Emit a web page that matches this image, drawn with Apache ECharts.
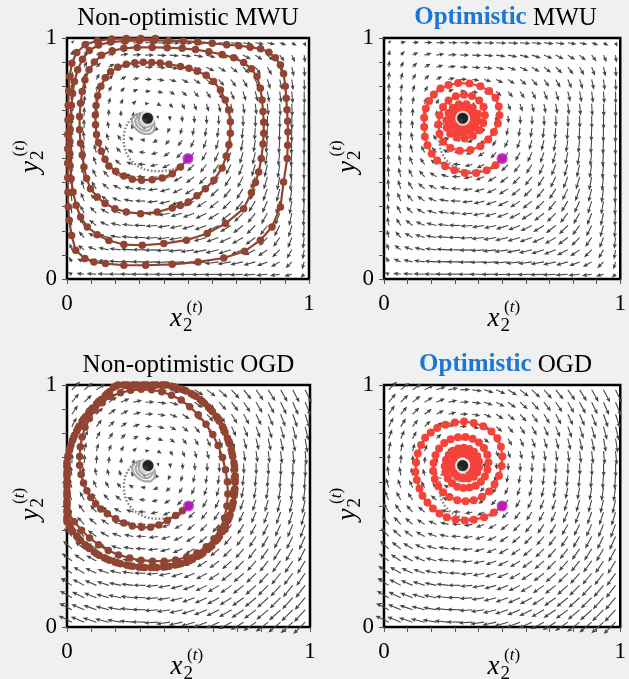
<!DOCTYPE html>
<html><head><meta charset="utf-8">
<script src="https://cdn.jsdelivr.net/npm/echarts@6/dist/echarts.min.js"></script>
<style>html,body{margin:0;padding:0;background:#f0f0f0;}#c{width:629px;height:679px;}</style>
</head><body><div id="c"></div>
<script>
// ---------- data ----------
const TICK_LABELS = ['0', '1'];           // only the ends are labelled
const ARROW_GRID = [0.02,0.071,0.121,0.172,0.222,0.273,0.323,0.374,0.424,0.475,0.525,0.576,0.626,0.677,0.727,0.778,0.828,0.879,0.929,0.98];
// x-component of the field per row, y-component per column
const FIELD_U_ROW = [-0.647,-0.596,-0.546,-0.495,-0.445,-0.394,-0.344,-0.293,-0.243,-0.192,-0.142,-0.091,-0.041,0.010,0.060,0.111,0.161,0.212,0.262,0.313];
const FIELD_V_COL = [0.313,0.262,0.212,0.161,0.111,0.060,0.010,-0.041,-0.091,-0.142,-0.192,-0.243,-0.293,-0.344,-0.394,-0.445,-0.495,-0.546,-0.596,-0.647];
// MWU weight p(1-p) at each grid position
const MWU_WEIGHT = [0.020,0.066,0.106,0.142,0.173,0.198,0.219,0.234,0.244,0.249,0.249,0.244,0.234,0.219,0.198,0.173,0.142,0.106,0.066,0.020];

const EQUILIBRIUM = [0.333, 0.667];
const START = [0.5, 0.5];

const GRAY_ARC = [[0.5,0.5],[0.483,0.479],[0.465,0.466],[0.445,0.456],[0.421,0.451],[0.395,0.448],[0.37,0.447],[0.345,0.449],[0.32,0.455],[0.297,0.466],[0.275,0.481],[0.258,0.5],[0.245,0.522],[0.237,0.546],[0.234,0.572],[0.235,0.598],[0.24,0.623],[0.25,0.645],[0.265,0.664],[0.283,0.678],[0.303,0.687],[0.32,0.69]];
const GRAY_SWIRL = [[0.32,0.69],[0.338,0.688],[0.35,0.678],[0.356,0.664],[0.36,0.648],[0.362,0.63],[0.356,0.612],[0.34,0.602],[0.32,0.602],[0.3,0.61],[0.283,0.624],[0.272,0.64],[0.268,0.658],[0.274,0.674],[0.29,0.684],[0.31,0.686],
[0.328,0.682],[0.342,0.674],[0.35,0.66],[0.352,0.643],[0.348,0.627],[0.335,0.616],[0.318,0.616],[0.3,0.625],[0.287,0.64],[0.282,0.656],[0.289,0.67],[0.305,0.678],[0.322,0.679],
[0.336,0.673],[0.344,0.66],[0.345,0.646],[0.338,0.633],[0.324,0.628],[0.309,0.634],[0.297,0.647],[0.295,0.661],[0.305,0.671],[0.32,0.675],
[0.333,0.669],[0.338,0.658],[0.335,0.646],[0.323,0.641],[0.31,0.648],[0.306,0.66],[0.315,0.669],[0.327,0.67],[0.333,0.666]];

const TRAJ_NONOPT_MWU = [[0.5,0.5],[0.469,0.465],[0.435,0.437],[0.393,0.419],[0.352,0.412],[0.308,0.41],[0.27,0.414],[0.235,0.427],[0.201,0.447],[0.173,0.469],[0.157,0.497],
[0.142,0.53],[0.13,0.565],[0.122,0.6],[0.118,0.64],[0.117,0.68],[0.12,0.72],[0.127,0.76],[0.14,0.8],[0.158,0.835],[0.18,0.86],[0.21,0.879],[0.245,0.891],[0.28,0.897],[0.315,0.899],[0.35,0.898],[0.385,0.896],[0.421,0.891],[0.469,0.882],[0.504,0.874],[0.538,0.862],[0.575,0.845],[0.606,0.819],[0.634,0.784],[0.654,0.743],[0.668,0.701],[0.675,0.653],[0.675,0.605],[0.669,0.557],[0.658,0.51],
[0.641,0.461],[0.607,0.41],[0.572,0.375],[0.537,0.345],[0.501,0.32],[0.468,0.305],[0.435,0.295],[0.373,0.278],[0.304,0.271],[0.245,0.278],[0.198,0.292],[0.157,0.313],[0.125,0.34],[0.097,0.375],[0.081,0.417],[0.07,0.465],
[0.063,0.515],[0.056,0.563],[0.052,0.619],[0.052,0.674],[0.056,0.729],[0.063,0.778],[0.074,0.826],[0.091,0.868],[0.113,0.9],[0.143,0.928],[0.187,0.947],[0.235,0.957],[0.29,0.961],[0.352,0.961],[0.414,0.96],[0.476,0.957],[0.531,0.952],[0.586,0.943],[0.641,0.932],[0.689,0.918],[0.73,0.898],[0.762,0.872],[0.785,0.84],[0.799,0.792],[0.806,0.743],[0.81,0.695],[0.813,0.65],[0.813,0.605],[0.81,0.56],[0.803,0.5],
[0.792,0.444],[0.779,0.4],[0.762,0.358],[0.73,0.292],[0.655,0.23],[0.579,0.189],[0.494,0.161],[0.4,0.147],[0.311,0.14],[0.235,0.143],[0.173,0.16],[0.125,0.184],[0.084,0.216],[0.056,0.257],[0.038,0.306],[0.025,0.361],[0.017,0.416],[0.013,0.47],
[0.012,0.52],[0.012,0.57],[0.013,0.62],[0.015,0.67],[0.018,0.72],[0.023,0.77],[0.031,0.82],[0.044,0.868],[0.064,0.912],[0.092,0.948],[0.13,0.971],[0.18,0.983],[0.24,0.988],[0.3,0.99],[0.36,0.99],[0.42,0.989],[0.48,0.987],[0.54,0.983],[0.6,0.978],[0.66,0.972],[0.71,0.968],[0.757,0.962],[0.8,0.955],[0.834,0.941],[0.861,0.918],[0.882,0.888],[0.895,0.852],[0.902,0.8],[0.906,0.75],[0.909,0.702],[0.912,0.655],[0.913,0.61],[0.912,0.555],[0.91,0.5],
[0.895,0.402],[0.882,0.299],[0.847,0.216],[0.799,0.161],[0.734,0.115],[0.648,0.087],[0.542,0.071],[0.435,0.061],[0.325,0.057],[0.235,0.057],[0.159,0.064],[0.111,0.071],[0.074,0.085],[0.036,0.119],[0.019,0.181],[0.009,0.244],
[0.005,0.3],[0.004,0.36],[0.003,0.42],[0.003,0.48],[0.003,0.54],[0.003,0.6],[0.004,0.66],[0.005,0.72],[0.007,0.78],[0.011,0.84],[0.02,0.895],[0.04,0.94],[0.075,0.972],[0.125,0.989],[0.185,0.996],[0.245,0.998],[0.305,0.998],[0.365,0.998]];

const TRAJ_OPT_MWU = [[0.5,0.5],[0.472,0.472],[0.435,0.451],[0.39,0.44],[0.342,0.44],[0.298,0.451],[0.259,0.468],[0.225,0.492],[0.202,0.52],[0.184,0.555],[0.173,0.59],[0.17,0.631],[0.17,0.669],[0.177,0.707],[0.191,0.739],[0.211,0.766],[0.239,0.79],[0.273,0.805],[0.314,0.813],[0.362,0.811],[0.408,0.8],[0.445,0.78],[0.472,0.752],[0.486,0.716],[0.489,0.679],[0.482,0.645],[0.465,0.61],[0.441,0.579],[0.408,0.551],[0.366,0.535],[0.321,0.532],[0.281,0.544],[0.25,0.569],[0.235,0.603],[0.23,0.641],[0.235,0.679],[0.25,0.714],[0.273,0.741],[0.304,0.758],[0.339,0.765],[0.373,0.759],[0.403,0.741],[0.421,0.714],[0.427,0.679],[0.42,0.647],[0.403,0.617],[0.376,0.593],[0.342,0.583],[0.307,0.587],[0.28,0.603],[0.266,0.628],[0.264,0.659],[0.273,0.689],[0.291,0.711],[0.317,0.725],[0.349,0.725],[0.376,0.711],[0.397,0.686],[0.399,0.656],[0.387,0.628],[0.363,0.61],[0.333,0.606],[0.304,0.617],[0.288,0.638],[0.285,0.666],[0.294,0.691],[0.314,0.703],[0.342,0.704],[0.366,0.693],[0.38,0.669],[0.376,0.645],[0.358,0.628],[0.332,0.624],[0.311,0.631],[0.294,0.648],[0.29,0.67],[0.298,0.692],[0.318,0.708],[0.342,0.71],[0.362,0.7],[0.374,0.684]];

const TRAJ_NONOPT_OGD = [[0.5,0.5],[0.475,0.48],[0.447,0.461],[0.413,0.44],[0.378,0.422],[0.344,0.412],[0.307,0.412],[0.269,0.417],[0.234,0.43],[0.2,0.447],[0.166,0.468],[0.139,0.488],[0.118,0.509],[0.098,0.535],[0.082,0.563],[0.068,0.595],[0.058,0.63],[0.052,0.668],[0.052,0.705],[0.055,0.745],[0.062,0.785],[0.074,0.825],[0.092,0.862],[0.116,0.897],[0.145,0.927],[0.18,0.952],[0.22,0.968],[0.262,0.978],[0.305,0.982],[0.348,0.98],[0.39,0.972],[0.43,0.958],[0.47,0.938],[0.505,0.91],[0.54,0.877],[0.572,0.838],[0.6,0.795],[0.622,0.75],[0.64,0.7],[0.652,0.65],[0.66,0.6],[0.662,0.55],[0.658,0.5],[0.648,0.45],[0.63,0.405],[0.605,0.365],[0.573,0.332],[0.535,0.306],[0.492,0.288],[0.447,0.277],[0.4,0.272],[0.352,0.272],[0.305,0.276],[0.258,0.285],[0.212,0.298],[0.17,0.316],[0.13,0.34],[0.093,0.368],[0.06,0.4],[0.03,0.435],[0.005,0.472],
[0,0.51],[0,0.55],[0,0.59],[0,0.63],[0,0.67],[0.005,0.71],[0.015,0.75],[0.03,0.79],[0.05,0.83],[0.075,0.868],[0.105,0.905],[0.14,0.94],[0.175,0.972],[0.21,1],[0.25,1],[0.29,1],[0.33,1],[0.37,1],[0.41,1],[0.45,0.99],[0.49,0.975],[0.53,0.953],[0.565,0.925],[0.598,0.89],[0.627,0.85],[0.65,0.805],[0.668,0.757],[0.682,0.705],[0.69,0.652],[0.692,0.598],[0.688,0.543],[0.678,0.49],[0.662,0.44],[0.64,0.395],[0.612,0.355],[0.578,0.32],[0.538,0.292],[0.494,0.27],[0.446,0.256],[0.396,0.248],[0.345,0.246],[0.295,0.248],[0.245,0.256],[0.198,0.268],[0.153,0.286],[0.112,0.31],[0.074,0.34],[0.04,0.375],[0.01,0.415],[0,0.455],
[0,0.48],[0,0.52],[0,0.56],[0,0.6],[0,0.64],[0,0.68],[0.01,0.73],[0.022,0.77],[0.04,0.81],[0.062,0.85],[0.09,0.887],[0.122,0.923],[0.157,0.956],[0.19,0.99],[0.23,1],[0.27,1],[0.31,1],[0.35,1],[0.39,1],[0.43,0.995],[0.47,0.983],[0.51,0.965],[0.548,0.94],[0.582,0.908],[0.613,0.871],[0.64,0.828],[0.66,0.781],[0.676,0.731],[0.687,0.679],[0.692,0.625],[0.691,0.571],[0.684,0.516],[0.671,0.464],[0.652,0.417],[0.627,0.374],[0.596,0.336],[0.559,0.305],[0.517,0.28],[0.471,0.262],[0.421,0.251],[0.37,0.246],[0.32,0.246],[0.27,0.251],[0.221,0.261],[0.175,0.276],[0.132,0.297],[0.092,0.324],[0.056,0.357],[0.024,0.395],[0,0.435],[0,0.475],
[0,0.5],[0,0.54],[0,0.58],[0,0.62],[0,0.66],[0.003,0.7],[0.012,0.74],[0.026,0.78],[0.045,0.82],[0.068,0.858],[0.097,0.896],[0.13,0.932],[0.165,0.964],[0.2,0.995],[0.24,1],[0.28,1],[0.32,1],[0.36,1],[0.4,1],[0.44,0.993],[0.48,0.979],[0.52,0.959],[0.556,0.933],[0.59,0.9],[0.62,0.861],[0.645,0.817],[0.664,0.769],[0.679,0.718],[0.689,0.665],[0.692,0.611],[0.69,0.557],[0.681,0.503],[0.667,0.452],[0.646,0.406],[0.62,0.364],[0.587,0.328],[0.549,0.298],[0.506,0.275],[0.459,0.259],[0.408,0.249],[0.357,0.246],[0.307,0.247],[0.257,0.253],[0.21,0.264],[0.164,0.281],[0.122,0.303],[0.083,0.332],[0.048,0.366],[0.017,0.405],[0,0.445]];

const TRAJ_OPT_OGD = [[0.5,0.5],[0.465,0.473],[0.424,0.454],[0.38,0.443],[0.342,0.44],[0.303,0.444],[0.266,0.454],[0.235,0.469],[0.207,0.49],[0.184,0.514],[0.163,0.542],[0.15,0.572],[0.139,0.607],[0.133,0.641],[0.136,0.68],[0.143,0.717],[0.157,0.752],[0.174,0.782],[0.198,0.804],[0.225,0.822],[0.26,0.836],[0.3,0.845],[0.339,0.849],[0.38,0.843],[0.42,0.83],[0.455,0.808],[0.48,0.78],[0.495,0.745],[0.501,0.705],[0.498,0.665],[0.487,0.625],[0.468,0.59],[0.445,0.56],[0.415,0.538],[0.38,0.524],[0.345,0.52],[0.31,0.524],[0.277,0.537],[0.25,0.557],[0.23,0.582],[0.215,0.612],[0.208,0.645],[0.21,0.678],[0.218,0.71],[0.233,0.738],[0.255,0.76],[0.282,0.776],[0.313,0.784],[0.345,0.785],[0.375,0.778],[0.402,0.762],[0.423,0.74],[0.437,0.712],[0.442,0.68],[0.438,0.65],[0.427,0.622],[0.41,0.6],[0.388,0.584],[0.362,0.576],[0.336,0.574],[0.31,0.58],[0.288,0.594],[0.27,0.614],[0.26,0.638],[0.257,0.664],[0.262,0.69],[0.274,0.712],[0.292,0.728],[0.314,0.738],[0.338,0.741],[0.361,0.736],[0.381,0.724],[0.395,0.706],[0.402,0.684],[0.402,0.66],[0.394,0.638],[0.38,0.621],[0.357,0.614],[0.334,0.616],[0.312,0.623],[0.296,0.636],[0.286,0.655],[0.287,0.677],[0.296,0.697],[0.314,0.712],[0.337,0.716],[0.358,0.708],[0.374,0.692],[0.38,0.671],[0.376,0.651],[0.363,0.635]];

const TITLES = [
  {opt: '', rest: 'Non-optimistic MWU'},
  {opt: 'Optimistic', rest: ' MWU'},
  {opt: '', rest: 'Non-optimistic OGD'},
  {opt: 'Optimistic', rest: ' OGD'}
];

// ---------- style / layout ----------
const SERIF = '"Liberation Serif", "DejaVu Serif", serif';
const BROWN = '#924432', RED = '#f5433a', GRAY = '#8a8a8a', SWIRL = '#9c9c9c', PURPLE = '#b414c8', BLUE = '#1c76d4', ARROW = '#474747';
const GRIDS = [
  {left: 67, top: 38, width: 242, height: 241},
  {left: 384, top: 38, width: 243, height: 241},
  {left: 67, top: 385, width: 243, height: 242},
  {left: 384, top: 385, width: 243, height: 242}
];
const PANELS = [
  {field: 'mwu', traj: TRAJ_NONOPT_MWU, color: BROWN, size: 7.5},
  {field: 'mwu', traj: TRAJ_OPT_MWU, color: RED, size: 8},
  {field: 'ogd', traj: TRAJ_NONOPT_OGD, color: BROWN, size: 7.5},
  {field: 'ogd', traj: TRAJ_OPT_OGD, color: RED, size: 8}
];
const ARROW_SCALE = {mwu: 37.5, ogd: 17.5};

function fieldData(kind) {
  const out = [];
  for (let i = 0; i < ARROW_GRID.length; i++) {
    for (let j = 0; j < ARROW_GRID.length; j++) {
      let u = FIELD_U_ROW[j], v = FIELD_V_COL[i];
      if (kind === 'mwu') { u = MWU_WEIGHT[i] * u; v = MWU_WEIGHT[j] * v; }
      out.push([ARROW_GRID[i], ARROW_GRID[j], u, v]);
    }
  }
  return out;
}

function arrowRenderer(k) {
  return function (params, api) {
    const u = api.value(2), v = api.value(3);
    const m = Math.hypot(u, v);
    if (!(m > 0)) return null;
    const p = api.coord([api.value(0), api.value(1)]);
    const L = k * Math.sqrt(m);
    const hl = 5, hw = 2.1, sw = 0.55;
    let pts;
    if (L <= hl) {
      const s = Math.max(L / hl, 0.6);
      pts = [[0, -hw * s], [L, 0], [0, hw * s]];
    } else {
      pts = [[0, -sw], [L - hl + 0.6, -sw], [L - hl, -hw], [L, 0], [L - hl, hw], [L - hl + 0.6, sw], [0, sw]];
    }
    const c = u / m, sn = -v / m;
    const points = pts.map(q => [p[0] + q[0] * c - q[1] * sn, p[1] + q[0] * sn + q[1] * c]);
    return {type: 'polygon', shape: {points}, style: {fill: ARROW}};
  };
}

function tickFmt(v) {
  if (Math.abs(v) < 1e-9) return TICK_LABELS[0];
  if (Math.abs(v - 1) < 1e-9) return TICK_LABELS[1];
  return '';
}

function axisCommon(i, isX) {
  return {
    gridIndex: i, type: 'value', min: 0, max: 1, interval: 0.1,
    axisLine: {show: false},
    axisTick: {show: true, length: 5, lineStyle: {color: '#555', width: 1}},
    splitLine: {show: false},
    axisLabel: {formatter: tickFmt, fontFamily: SERIF, fontSize: 23, color: '#000', margin: isX ? 13 : 10,
      showMinLabel: true, showMaxLabel: true, padding: isX ? 0 : [6, 0, 0, 0]}
  };
}

const grid = GRIDS.map(g => Object.assign({show: true, backgroundColor: '#fff', borderColor: '#000', borderWidth: 2.5}, g));
const xAxis = GRIDS.map((g, i) => axisCommon(i, true));
const yAxis = GRIDS.map((g, i) => axisCommon(i, false));

const series = [];
PANELS.forEach((pn, i) => {
  series.push({type: 'custom', xAxisIndex: i, yAxisIndex: i, data: fieldData(pn.field),
    dimensions: ['x', 'y', 'u', 'v'], encode: {x: 0, y: 1},
    renderItem: arrowRenderer(ARROW_SCALE[pn.field]), silent: true, z: 1});
  series.push({type: 'line', xAxisIndex: i, yAxisIndex: i, data: GRAY_ARC, showSymbol: false, clip: false,
    lineStyle: {color: GRAY, width: 2.4, type: [1.8, 1.8]}, silent: true, z: 2});
  series.push({type: 'line', xAxisIndex: i, yAxisIndex: i, data: GRAY_SWIRL, showSymbol: false, clip: false, smooth: 0.3,
    lineStyle: {color: SWIRL, width: 2.2, opacity: 0.9}, silent: true, z: 2});
  series.push({type: 'line', xAxisIndex: i, yAxisIndex: i, data: pn.traj, symbol: 'circle', symbolSize: pn.size,
    showAllSymbol: true, clip: false, lineStyle: {color: pn.color, width: 2.2}, itemStyle: {color: pn.color}, silent: true, z: 3});
  series.push({type: 'scatter', xAxisIndex: i, yAxisIndex: i, data: [EQUILIBRIUM], symbolSize: 13,
    itemStyle: {color: '#000', borderColor: '#fff', borderWidth: 2}, silent: true, z: 4});
  series.push({type: 'scatter', xAxisIndex: i, yAxisIndex: i, data: [START], symbolSize: 11,
    itemStyle: {color: PURPLE}, silent: true, z: 4});
});

function labelGroup(ox, oy, letter, rot) {
  return {type: 'group', x: ox, y: oy, rotation: rot, silent: true, children: [
    {type: 'text', x: 0, y: -9, style: {text: letter, fontFamily: SERIF, fontStyle: 'italic', fontSize: 27, fill: '#000', align: 'left', verticalAlign: 'middle'}},
    {type: 'text', x: 13, y: -1.5, style: {text: '2', fontFamily: SERIF, fontSize: 19, fill: '#000', align: 'left', verticalAlign: 'middle'}},
    {type: 'text', x: 16.5, y: -20.5, style: {text: '{p|(}{t|t}{p|)}', fontFamily: SERIF, fontSize: 17, fill: '#000', align: 'left', verticalAlign: 'middle',
      rich: {p: {fontFamily: SERIF, fontSize: 17, fill: '#000', color: '#000'}, t: {fontFamily: SERIF, fontSize: 17, fontStyle: 'italic', fill: '#000', color: '#000'}}}}
  ]};
}

const graphic = [];
GRIDS.forEach((g, i) => {
  const cx = g.left + g.width / 2;
  const t = TITLES[i];
  const txt = t.opt ? '{b|' + t.opt + '}{n|' + t.rest + '}' : '{n|' + t.rest + '}';
  graphic.push({type: 'text', x: cx, y: g.top - 20, silent: true, z: 10, style: {
    text: txt, align: 'center', verticalAlign: 'middle', fontFamily: SERIF, fontSize: 25, fill: '#000',
    rich: {
      b: {fontFamily: SERIF, fontSize: 25, fontWeight: 'bold', fill: BLUE, color: BLUE},
      n: {fontFamily: SERIF, fontSize: 25, fill: '#000', color: '#000'}
    }}});
  graphic.push(labelGroup(cx - 18, g.top + g.height + 49, 'x', 0));
  graphic.push(labelGroup(g.left - 27, g.top + g.height / 2 + 14.5, 'y', Math.PI / 2));
});

const chart = echarts.init(document.getElementById('c'), null, {renderer: 'canvas'});
chart.setOption({
  backgroundColor: '#f0f0f0',
  animation: false,
  grid, xAxis, yAxis, series, graphic
});
</script>
</body></html>
